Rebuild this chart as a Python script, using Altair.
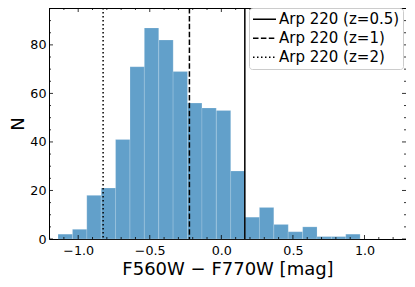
import altair as alt
import pandas as pd

# Histogram bins (left edges) and counts
bin_lo = [-1.141, -1.040, -0.940, -0.839, -0.739, -0.638, -0.538, -0.437, -0.337,
          -0.236, -0.136, -0.035, 0.065, 0.166, 0.266, 0.367, 0.467, 0.568, 0.668,
          0.769, 0.869]
bin_w = 0.1005
counts = [2, 4, 18, 21, 41, 71, 87, 82, 69, 56, 54, 53, 28, 9, 13, 6, 3, 5, 1, 1, 2]

# Reference lines
line_x = [0.164, -0.223, -0.826]
line_lbl = ["Arp 220 (z=0.5)", "Arp 220 (z=1)", "Arp 220 (z=2)"]

# Tick values
x_major = [-1.0, -0.5, 0.0, 0.5, 1.0]
x_minor = [-1.2, -1.1, -0.9, -0.8, -0.7, -0.6, -0.4, -0.3, -0.2, -0.1,
           0.1, 0.2, 0.3, 0.4, 0.6, 0.7, 0.8, 0.9, 1.1, 1.2]
y_major = [0, 20, 40, 60, 80]
y_minor = [5, 10, 15, 25, 30, 35, 45, 50, 55, 65, 70, 75, 85, 90, 95]

W, H = 357, 231
FONT = "DejaVu Sans"
xs = alt.Scale(domain=[-1.204, 1.29], nice=False, zero=False)
ys = alt.Scale(domain=[0, 95.2], nice=False, zero=False)
xaxis = alt.Axis(values=x_major, format=".1f", ticks=False, domain=False, grid=False,
                 labelPadding=5, title="F560W − F770W [mag]", titlePadding=4)
yaxis = alt.Axis(values=y_major, ticks=False, domain=False, grid=False,
                 labelPadding=3, title="N", titlePadding=2)

bars_df = pd.DataFrame({"x": bin_lo, "x2": [b + bin_w for b in bin_lo], "n": counts})
bars = alt.Chart(bars_df).mark_rect(
    fill="#1f77b4", fillOpacity=0.7, stroke="white", strokeWidth=0.6, strokeOpacity=0.3
).encode(
    x=alt.X("x:Q", scale=xs, axis=xaxis),
    x2="x2:Q",
    y=alt.Y("n:Q", scale=ys, axis=yaxis),
    y2=alt.datum(0),
)

lines_df = pd.DataFrame({"x": line_x, "lab": line_lbl})
vlines = alt.Chart(lines_df).mark_rule(color="black", strokeWidth=1.5).encode(
    x=alt.X("x:Q", scale=xs, axis=xaxis),
    strokeDash=alt.StrokeDash(
        "lab:N",
        scale=alt.Scale(domain=line_lbl, range=[[1, 0], [5.5, 2.4], [1.5, 2.5]]),
        legend=alt.Legend(title=None, orient="none", legendX=200, legendY=0,
                          symbolType="stroke", symbolSize=529, symbolStrokeColor="black",
                          symbolStrokeWidth=1.5, labelFontSize=15, labelFont=FONT,
                          clipHeight=16.5, labelOffset=2, rowPadding=2, padding=3,
                          fillColor="white", strokeColor="#cccccc", cornerRadius=3,
                          labelColor="black"),
    ),
)


def xticks(vals, length, top):
    df = pd.DataFrame({"x": vals})
    if top:
        yy, yy2 = 0, length
    else:
        yy, yy2 = H, H - length
    return alt.Chart(df).mark_rule(color="black", strokeWidth=0.8).encode(
        x=alt.X("x:Q", scale=xs, axis=xaxis), y=alt.value(yy), y2=alt.value(yy2))


def yticks(vals, length, right):
    df = pd.DataFrame({"n": vals})
    if right:
        xx, xx2 = W - length, W
    else:
        xx, xx2 = 0, length
    return alt.Chart(df).mark_rule(color="black", strokeWidth=0.8).encode(
        y=alt.Y("n:Q", scale=ys, axis=yaxis), x=alt.value(xx), x2=alt.value(xx2))


layers = [bars, vlines,
          xticks(x_major, 4, False), xticks(x_major, 4, True),
          xticks(x_minor, 2, False), xticks(x_minor, 2, True),
          yticks(y_major, 4, False), yticks(y_major, 4, True),
          yticks(y_minor, 2, False), yticks(y_minor, 2, True)]

chart = alt.layer(*layers).properties(
    width=W, height=H, autosize="none",
    padding={"left": 41, "top": 0, "right": 0, "bottom": 40},
).configure_view(stroke="black", strokeWidth=1).configure_axis(
    labelFont=FONT, titleFont=FONT, labelFontSize=12.7, titleFontSize=18,
    titleFontWeight="normal", labelColor="black", titleColor="black",
)

chart.save("out.html", embed_options={"renderer": "svg", "actions": False})
